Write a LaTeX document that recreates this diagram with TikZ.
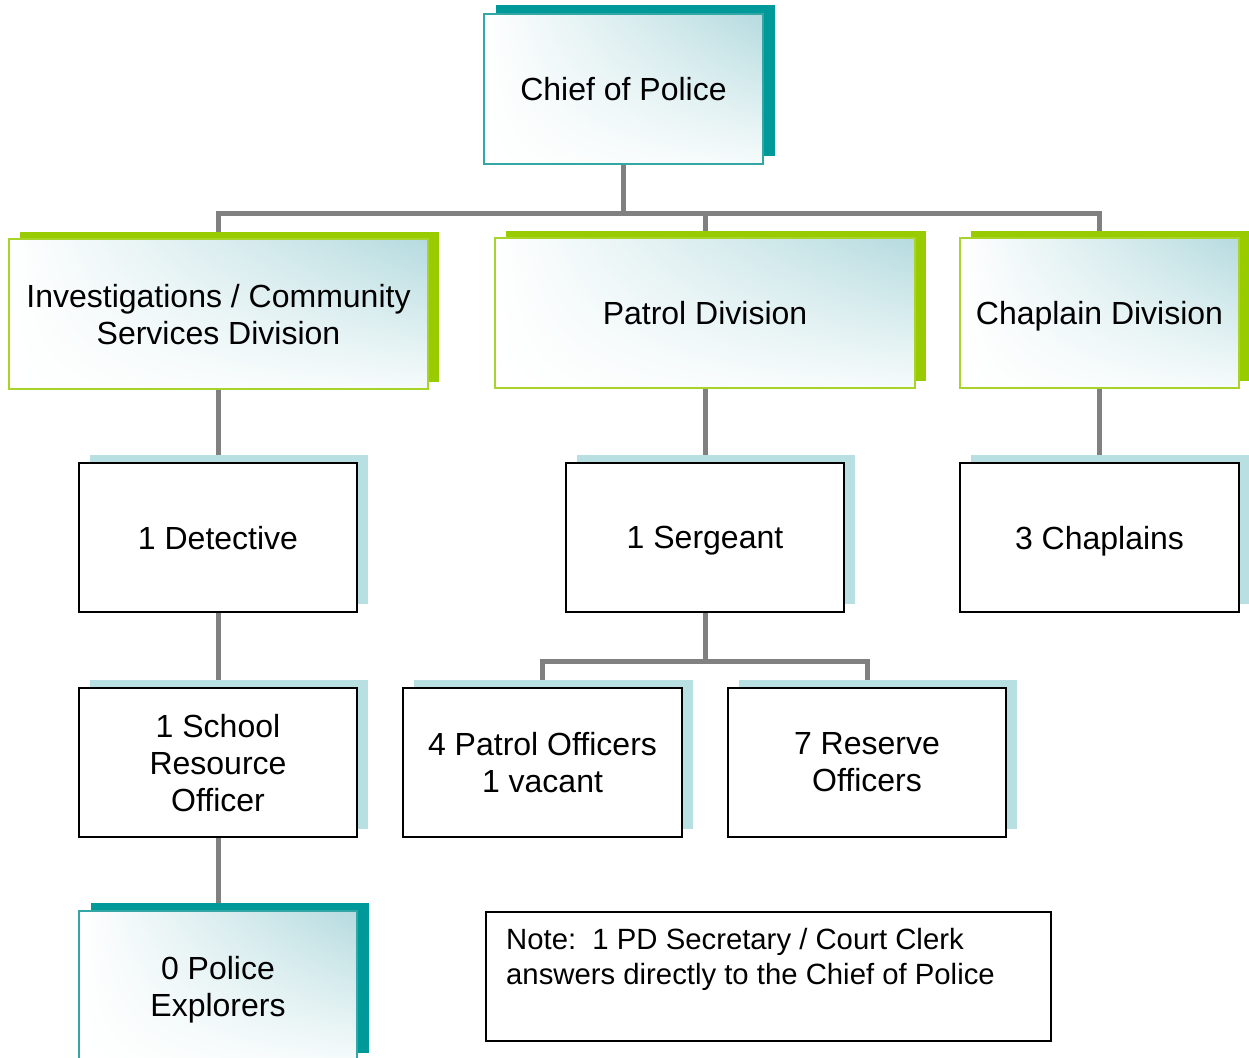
\documentclass[tikz,border=0pt]{standalone}
\usepackage{fontspec}
\setmainfont{Liberation Sans}
\usetikzlibrary{shadows,backgrounds,shadings}
\definecolor{tealS}{HTML}{009999}
\definecolor{tealB}{HTML}{33A6A6}
\definecolor{greenS}{HTML}{99CC00}
\definecolor{greenB}{HTML}{A8D42A}
\definecolor{blueS}{HTML}{B8DFE2}
\definecolor{gradC}{HTML}{B5DBDF}
\definecolor{gradL}{HTML}{F6FBFB}
\definecolor{connC}{HTML}{808080}
\tikzset{
  basebox/.style={rectangle, inner sep=0pt, align=center, text depth=0pt,
    font=\fontsize{32}{37}\selectfont, line width=2pt},
  gradfill/.style={shade, upper left=white, upper right=gradC,
    lower left=white, lower right=gradL},
  tealbox/.style={basebox, gradfill, draw=tealB, minimum width=279pt, minimum height=150pt,
    drop shadow={shadow xshift=11.5pt, shadow yshift=8.5pt, fill=tealS, opacity=1}},
  greenbox/.style={basebox, gradfill, draw=greenB, minimum height=150pt,
    drop shadow={shadow xshift=11pt, shadow yshift=7pt, fill=greenS, opacity=1}},
  plainbox/.style={basebox, fill=white, draw=black, minimum width=278pt, minimum height=149pt,
    drop shadow={shadow xshift=10.5pt, shadow yshift=8pt, fill=blueS, opacity=1}},
  notebox/.style={rectangle, fill=white, draw=black, line width=2pt,
    minimum width=565pt, minimum height=129pt, inner sep=0pt},
  conn/.style={draw=connC, line width=5pt},
}
\begin{document}
\begin{tikzpicture}[x=1pt,y=-1pt]
\useasboundingbox (0,0) rectangle (1249,1057);
% nodes
\node[tealbox] (chief) at (623.5,89) {Chief of Police};
\node[greenbox, minimum width=419pt] (inv) at (218.5,314) {Investigations / Community\\Services Division};
\node[greenbox, minimum width=420pt] (patrol) at (705,313) {Patrol Division};
\node[greenbox, minimum width=279pt] (chapdiv) at (1099.5,313) {Chaplain Division};
\node[plainbox] (det) at (218,537.5) {1 Detective};
\node[plainbox] (serg) at (705,537.5) {1 Sergeant};
\node[plainbox, minimum width=279pt] (chap) at (1099.5,537.5) {3 Chaplains};
\node[plainbox] (sro) at (218,762.5) {1 School\\Resource\\Officer};
\node[plainbox, minimum width=279pt] (po) at (542.5,762) {4 Patrol Officers\\1 vacant};
\node[plainbox] (ro) at (867,762) {7 Reserve\\Officers};
\node[tealbox, minimum width=278pt] (expl) at (218,986) {0 Police\\Explorers};
\node[notebox, anchor=north west] (note) at (485,911) {};
\node[anchor=north west, align=left, inner sep=0pt, font=\fontsize{29.3}{35}\selectfont]
  (notetext) at ([xshift=21pt,yshift=-17.5pt]note.north west)
  {Note:\ \ 1 PD Secretary / Court Clerk\\answers directly to the Chief of Police};
% connectors
\begin{scope}[on background layer]
\coordinate (bus) at (0,213);
\coordinate (sbus) at (0,661);
\draw[conn] (chief.south) -- (chief.south |- bus);
\draw[conn] (inv.north) |- (chapdiv.north |- bus) -- (chapdiv.north);
\draw[conn] (patrol.north) -- (patrol.north |- bus);
\draw[conn] (inv.south) -- (inv.south |- det.north);
\draw[conn] (patrol.south) -- (serg.north);
\draw[conn] (chapdiv.south) -- (chap.north);
\draw[conn] (det.south) -- (sro.north);
\draw[conn] (sro.south) -- (expl.north);
\draw[conn] (serg.south) -- (serg.south |- sbus);
\draw[conn] (po.north) |- (ro.north |- sbus) -- (ro.north);
\end{scope}
\end{tikzpicture}
\end{document}
